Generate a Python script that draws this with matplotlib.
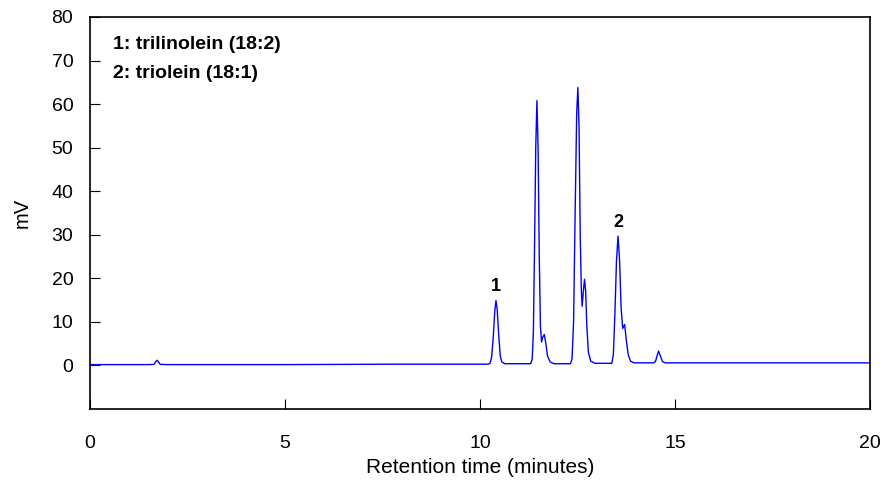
import matplotlib
matplotlib.use("Agg")
import matplotlib.pyplot as plt

plt.rcParams['font.family'] = ['Liberation Sans', 'DejaVu Sans']

# Chromatogram trace (time in minutes, signal in mV)
time_min = [0.0, 1.5, 1.64, 1.69, 1.72, 1.75, 1.80, 2.0, 5.0, 8.0, 10.2,
            10.26, 10.30, 10.34, 10.38, 10.41, 10.44, 10.48, 10.52, 10.56, 10.64,
            11.3, 11.34, 11.37, 11.40, 11.43, 11.46, 11.49, 11.52, 11.55, 11.58,
            11.61, 11.65, 11.69, 11.73, 11.8, 11.9,
            12.32, 12.36, 12.40, 12.44, 12.48, 12.51, 12.54, 12.57, 12.60, 12.62,
            12.65, 12.68, 12.71, 12.74, 12.78, 12.84, 12.95,
            13.38, 13.42, 13.46, 13.50, 13.54, 13.58, 13.62, 13.66, 13.71, 13.75,
            13.80, 13.86, 13.95,
            14.45, 14.50, 14.55, 14.58, 14.62, 14.68, 14.75, 17.0, 20.0]
signal_mv = [0.2, 0.2, 0.25, 0.9, 1.2, 0.9, 0.25, 0.2, 0.2, 0.3, 0.3,
             0.5, 2.0, 6.5, 12.5, 14.9, 13.0, 7.0, 2.2, 0.8, 0.4,
             0.4, 1.5, 8.0, 28.0, 50.0, 60.8, 50.0, 25.0, 9.0, 5.4,
             6.5, 7.1, 5.0, 2.2, 0.8, 0.4,
             0.4, 1.5, 10.0, 35.0, 58.0, 63.8, 55.0, 30.0, 17.0, 13.6,
             17.0, 19.8, 17.0, 9.0, 3.0, 1.0, 0.5,
             0.5, 2.5, 12.0, 24.0, 29.7, 24.0, 13.0, 8.5, 9.4, 6.0,
             2.5, 1.0, 0.6,
             0.6, 0.9, 2.5, 3.3, 2.3, 0.9, 0.6, 0.6, 0.6]

peak_labels = ['1', '2']
peak_times = [10.41, 13.54]
peak_heights = [14.9, 29.7]
legend_lines = ['1: trilinolein (18:2)', '2: triolein (18:1)']

fig = plt.figure(figsize=(8.91, 4.97), dpi=100)
ax = fig.add_axes([0.101, 0.177, 0.8754, 0.7888])

ax.plot(time_min, signal_mv, color='#0000ff', linewidth=1.0)

for lab, t, h in zip(peak_labels, peak_times, peak_heights):
    ax.annotate(lab, (t, h), xytext=(0, 4), textcoords='offset points',
                ha='center', va='bottom', fontsize=13, fontweight='bold')

for i, line in enumerate(legend_lines):
    ax.text(0.0295, 0.929 - i * 0.074, line, transform=ax.transAxes,
            fontsize=14, fontweight='bold', va='center', ha='left')

ax.set_xlim(0, 20)
ax.set_ylim(-10, 80)
ax.set_xticks([0, 5, 10, 15, 20])
ax.set_yticks([0, 10, 20, 30, 40, 50, 60, 70, 80])
ax.tick_params(direction='in', length=7, width=0.8, labelsize=14)
ax.tick_params(axis='x', pad=19)
ax.tick_params(axis='y', pad=12)
ax.set_xlabel('Retention time (minutes)', fontsize=15, labelpad=4)
ax.set_ylabel('mV', fontsize=14.5, labelpad=14)
for s in ax.spines.values():
    s.set_linewidth(1.2)

fig.savefig('out.png', dpi=100)
